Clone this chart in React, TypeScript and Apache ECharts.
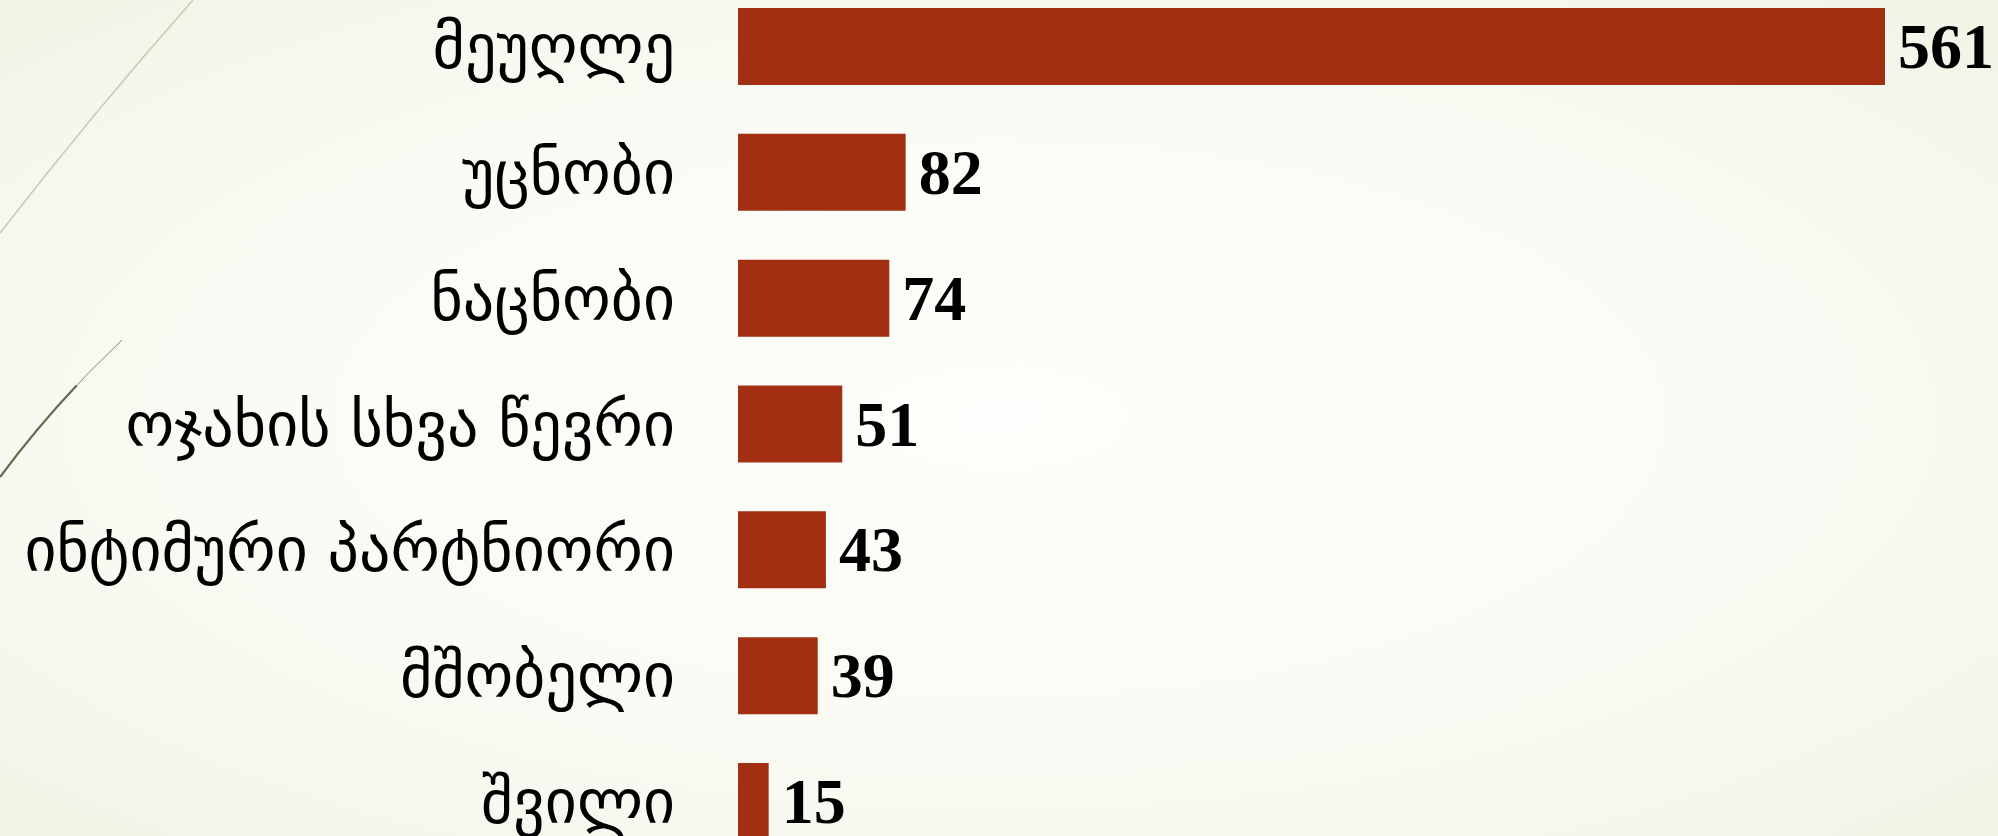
import React, { useEffect, useRef } from "react";
import * as echarts from "echarts";

const categories = [
  "მეუღლე",
  "უცნობი",
  "ნაცნობი",
  "ოჯახის სხვა წევრი",
  "ინტიმური პარტნიორი",
  "მშობელი",
  "შვილი",
];
const values = [561, 82, 74, 51, 43, 39, 15];

const W = 1998;
const H = 836;

export default function App() {
  const ref = useRef<HTMLDivElement>(null);
  useEffect(() => {
    if (!ref.current) return;
    const chart = echarts.init(ref.current, null, { renderer: "svg" });
    chart.setOption({
      animation: false,
      backgroundColor: {
        type: "radial",
        x: 0.5,
        y: 0.5,
        r: 1.3,
        colorStops: [
          { offset: 0, color: "#fdfefb" },
          { offset: 0.35, color: "#f8faf2" },
          { offset: 1, color: "#dde8c6" },
        ],
      },
      grid: {
        left: 738,
        width: 1147,
        top: -16.4,
        height: 880.8,
        outerBoundsMode: "none",
        containLabel: false,
      },
      xAxis: {
        type: "value",
        min: 0,
        max: 561,
        show: false,
      },
      yAxis: {
        type: "category",
        data: categories,
        inverse: true,
        axisLine: { show: false },
        axisTick: { show: false },
        axisLabel: {
          margin: 63,
          color: "#000",
          fontSize: 62,
          fontFamily: "DejaVu Sans",
        },
      },
      series: [
        {
          type: "bar",
          data: values,
          barWidth: 77,
          itemStyle: { color: "#a32f12" },
          label: {
            show: true,
            position: "right",
            distance: 13,
            color: "#000",
            fontSize: 64,
            fontWeight: "bold",
            fontFamily: "Liberation Serif",
          },
        },
      ],
      graphic: [
        {
          type: "bezierCurve",
          shape: { x1: 193, y1: 0, x2: 0, y2: 233, cpx1: 93, cpy1: 113 },
          style: { stroke: "#c6cab4", lineWidth: 1.5, fill: "none" },
          silent: true,
        },
        {
          type: "bezierCurve",
          shape: { x1: 122, y1: 340, x2: 0, y2: 477, cpx1: 55, cpy1: 403 },
          style: { stroke: "#8a8270", lineWidth: 1, fill: "none" },
          silent: true,
        },
        {
          type: "bezierCurve",
          shape: { x1: 76.6, y1: 385.5, x2: 0, y2: 477, cpx1: 35.75, cpy1: 428.9 },
          style: { stroke: "#6f6652", lineWidth: 2.2, fill: "none" },
          silent: true,
        },
      ],
    });
    return () => chart.dispose();
  }, []);
  return (
    <div
      ref={ref}
      style={{ position: "absolute", left: 0, top: 0, width: W, height: H }}
    />
  );
}
